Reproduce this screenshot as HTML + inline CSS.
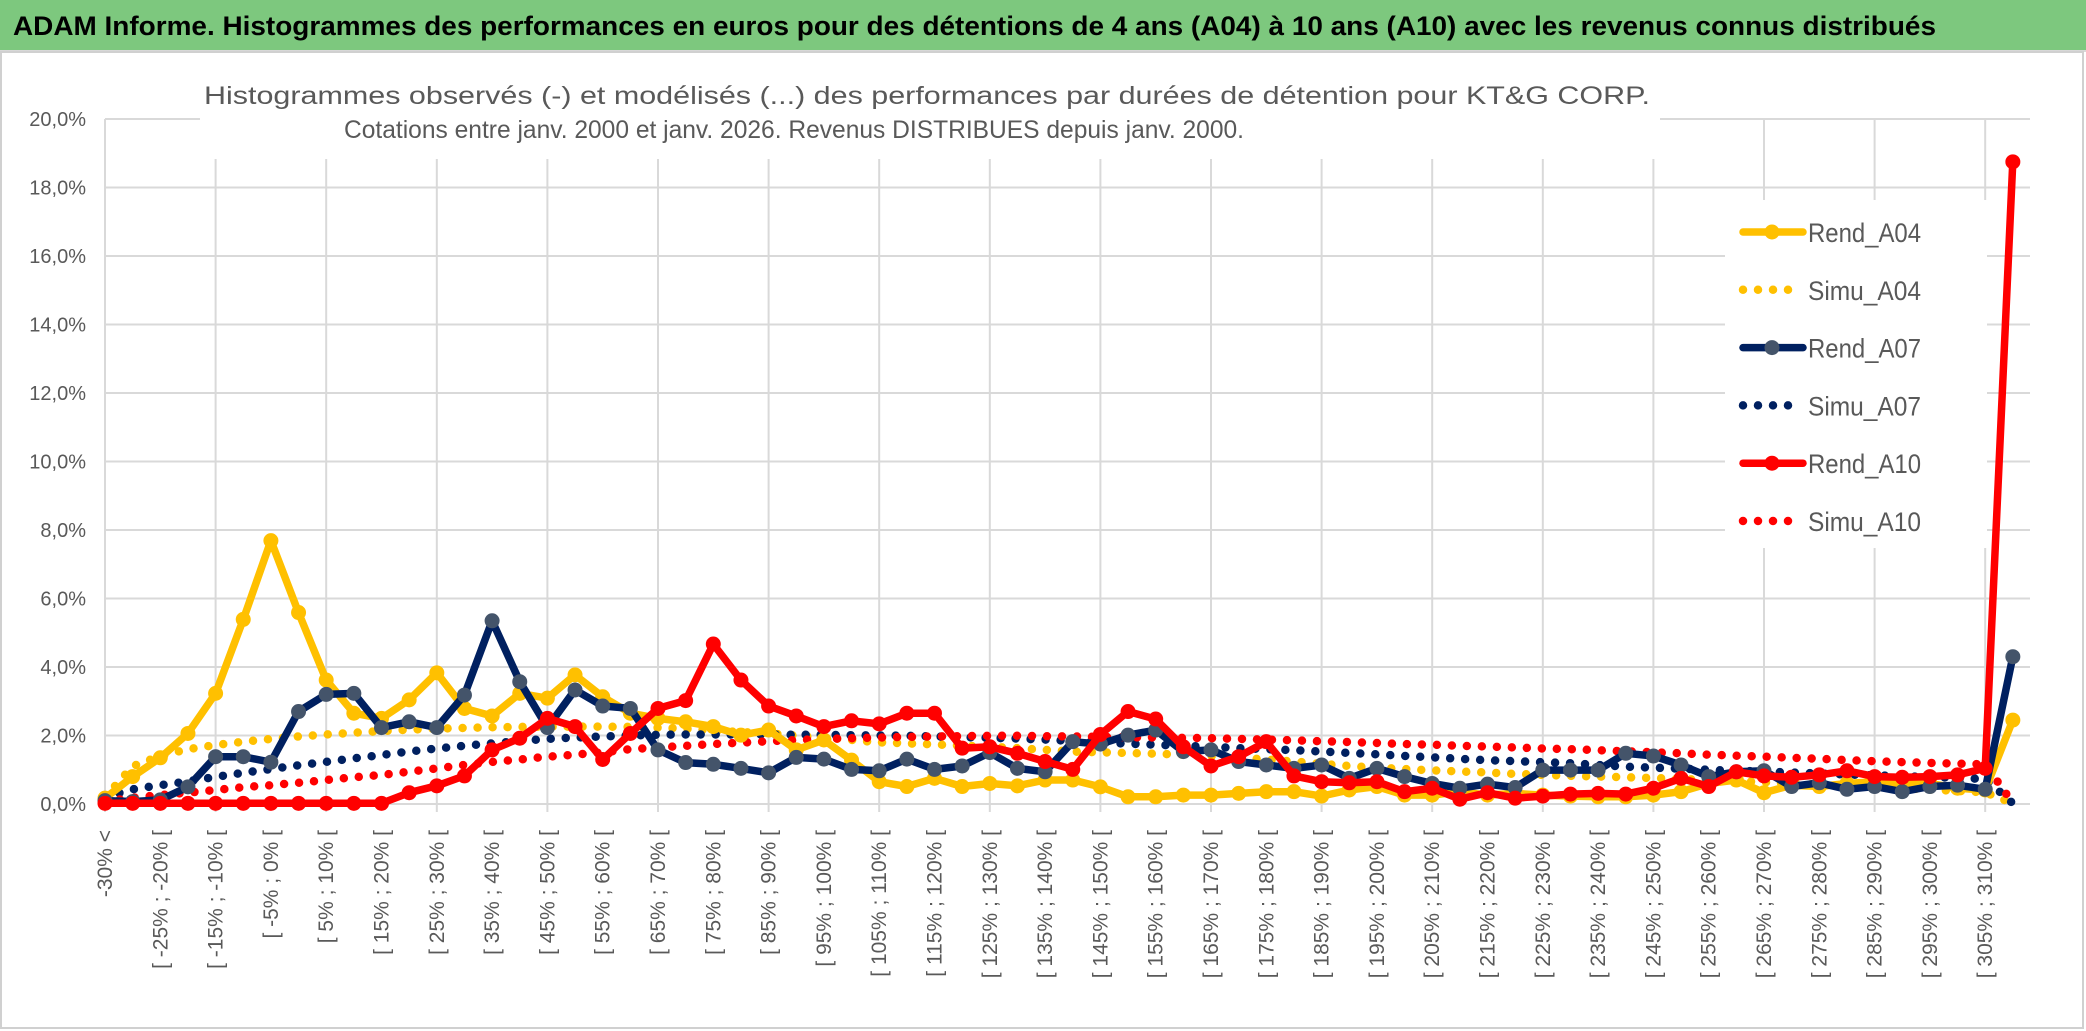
<!DOCTYPE html>
<html><head><meta charset="utf-8"><style>
html,body{margin:0;padding:0;background:#fff;}
svg{display:block;font-family:"Liberation Sans",sans-serif;}
</style></head><body>
<svg id="chart" width="2086" height="1031" viewBox="0 0 2086 1031" xmlns="http://www.w3.org/2000/svg">
<rect x="0" y="0" width="2086" height="50" fill="#7DC87E"/>
<line x1="0" y1="51" x2="2086" y2="51" stroke="#d8d8d8" stroke-width="2"/>
<text x="13" y="35" font-size="27" font-weight="bold" fill="#000" textLength="1923" lengthAdjust="spacingAndGlyphs">ADAM Informe. Histogrammes des performances en euros pour des détentions de 4 ans (A04) à 10 ans (A10) avec les revenus connus distribués</text>
<rect x="1" y="52" width="2082" height="976" fill="none" stroke="#d0d0d0" stroke-width="2"/>
<g id="grid"></g>
<rect x="200" y="80" width="1460" height="79" fill="#fff"/>
<text x="204" y="104" font-size="25" fill="#595959" textLength="1446" lengthAdjust="spacingAndGlyphs">Histogrammes observés (-) et modélisés (...) des performances par durées de détention pour KT&amp;G CORP.</text>
<text x="344" y="138" font-size="25" fill="#595959" textLength="900" lengthAdjust="spacingAndGlyphs">Cotations entre janv. 2000 et janv. 2026. Revenus DISTRIBUES depuis janv. 2000.</text>
<g id="yaxis"></g>
<g id="xaxis"></g>
<g id="series"></g>
<g id="legend"></g>
</svg>
<script>
const yTicks = [0,2,4,6,8,10,12,14,16,18,20];
const seriesNames = ["Rend_A04","Simu_A04","Rend_A07","Simu_A07","Rend_A10","Simu_A10"];
const rendA04 = [0.17,0.8,1.35,2.06,3.23,5.39,7.69,5.59,3.62,2.65,2.5,3.04,3.83,2.79,2.57,3.23,3.09,3.77,3.13,2.65,2.5,2.4,2.26,2.01,2.16,1.58,1.87,1.28,0.65,0.51,0.75,0.51,0.6,0.53,0.7,0.7,0.5,0.21,0.21,0.26,0.26,0.31,0.36,0.36,0.23,0.41,0.51,0.26,0.26,0.36,0.26,0.31,0.26,0.23,0.21,0.21,0.26,0.36,0.6,0.7,0.33,0.55,0.51,0.6,0.65,0.6,0.6,0.46,0.41,2.45];
const simuA04 = [0.2,1.1,1.4,1.6,1.72,1.82,1.9,1.97,2.03,2.08,2.13,2.17,2.2,2.22,2.24,2.25,2.26,2.26,2.26,2.25,2.23,2.2,2.15,2.1,2.06,2.0,1.94,1.87,1.8,1.77,1.74,1.7,1.67,1.63,1.58,1.53,1.51,1.49,1.47,1.44,1.4,1.35,1.3,1.24,1.17,1.11,1.06,1.02,0.98,0.95,0.92,0.88,0.85,0.82,0.8,0.78,0.76,0.73,0.7,0.67,0.64,0.6,0.57,0.53,0.5,0.46,0.42,0.38,0.34,0.02];
const rendA07 = [0.1,0.07,0.12,0.5,1.38,1.38,1.22,2.7,3.2,3.23,2.23,2.4,2.23,3.18,5.35,3.57,2.23,3.33,2.86,2.79,1.58,1.21,1.16,1.04,0.91,1.36,1.31,1.01,0.97,1.31,1.01,1.11,1.5,1.04,0.94,1.82,1.75,2.01,2.16,1.53,1.58,1.24,1.14,1.04,1.14,0.75,1.04,0.8,0.6,0.46,0.58,0.48,0.99,0.99,0.99,1.48,1.4,1.14,0.8,0.94,0.97,0.51,0.62,0.43,0.51,0.36,0.51,0.55,0.43,4.3];
const simuA07 = [0.2,0.43,0.55,0.66,0.79,0.91,1.02,1.13,1.23,1.33,1.43,1.53,1.62,1.7,1.77,1.84,1.9,1.94,1.97,2.0,2.02,2.03,2.03,2.03,2.03,2.02,2.02,2.01,2.0,1.99,1.97,1.95,1.93,1.91,1.88,1.84,1.8,1.76,1.73,1.7,1.67,1.63,1.6,1.57,1.53,1.49,1.45,1.4,1.36,1.32,1.28,1.25,1.22,1.19,1.14,1.09,1.06,1.03,1.0,0.97,0.95,0.92,0.89,0.86,0.84,0.81,0.79,0.76,0.73,0.02];
const rendA10 = [0.02,0.02,0.02,0.02,0.02,0.02,0.02,0.02,0.02,0.02,0.02,0.33,0.53,0.82,1.58,1.92,2.5,2.26,1.3,2.06,2.79,3.02,4.67,3.62,2.86,2.57,2.26,2.43,2.34,2.65,2.65,1.63,1.67,1.48,1.24,1.01,2.03,2.7,2.48,1.67,1.11,1.38,1.82,0.82,0.65,0.62,0.65,0.36,0.46,0.14,0.33,0.17,0.23,0.29,0.31,0.29,0.46,0.75,0.51,0.94,0.82,0.78,0.85,0.97,0.8,0.78,0.8,0.85,1.04,18.75];
const simuA10 = [0.07,0.18,0.26,0.33,0.41,0.49,0.55,0.62,0.7,0.78,0.85,0.94,1.04,1.14,1.23,1.3,1.38,1.44,1.51,1.6,1.65,1.7,1.75,1.79,1.83,1.87,1.9,1.92,1.94,1.96,1.97,1.98,1.99,1.99,1.98,1.97,1.96,1.95,1.94,1.93,1.92,1.9,1.88,1.86,1.83,1.81,1.78,1.75,1.73,1.7,1.68,1.65,1.62,1.6,1.57,1.54,1.51,1.48,1.44,1.41,1.38,1.35,1.32,1.28,1.25,1.22,1.2,1.18,1.16,0.03];
const categories = ["-30% <"];
for (let i = 1; i < 70; i++) { const a = -30 + 5*(i-1); categories.push("[ " + a + "% ; " + (a+5) + "% ["); }

const NS = "http://www.w3.org/2000/svg";
const X0 = 105, DX = 27.65, Y0 = 804, PY = 34.25;
const xs = i => X0 + i*DX;
const ys = v => Y0 - v*PY;
function mk(tag, attrs, parent){ const e=document.createElementNS(NS,tag); for(const k in attrs) e.setAttribute(k,attrs[k]); parent.appendChild(e); return e; }

const grid = document.getElementById('grid');
yTicks.forEach(t => {
  const ln = mk('line',{x1:X0,x2:2030,y1:ys(t),y2:ys(t),stroke:'#d9d9d9','stroke-width':2},grid);
  
  
});
for (let i = 0; i < categories.length; i += 4) {
  const ln = mk('line',{x1:xs(i),x2:xs(i),y1:ys(20),y2:Y0+8,stroke:'#d9d9d9','stroke-width':2},grid);
  
  
}
const yaxis = document.getElementById('yaxis');
yTicks.forEach(t => {
  const tx = mk('text',{x:86,y:ys(t)+7,'text-anchor':'end','font-size':20,fill:'#595959'},yaxis);
  tx.textContent = t.toFixed(1).replace('.',',') + '%';
  
  
});
const xaxis = document.getElementById('xaxis');
categories.forEach((c,i) => {
  if (i % 2) return;
  const x = xs(i)+7, y = 830;
  const tx = mk('text',{x:x,y:y,'text-anchor':'end','font-size':21,fill:'#595959',transform:'rotate(-90 '+x+' '+y+')'},xaxis);
  tx.textContent = c;
  
  
});

const seriesData = [rendA04, simuA04, rendA07, simuA07, rendA10, simuA10];
const styles = [
  {c:'#FFC000',m:'#FFC000',dot:false},{c:'#FFC000',dot:true},
  {c:'#002060',m:'#44546A',dot:false},{c:'#002060',dot:true},
  {c:'#FF0000',m:'#FF0000',dot:false},{c:'#FF0000',dot:true}];
const order = [1,3,5,0,2,4];
const sg = document.getElementById('series');
order.forEach(k => {
  const d = seriesData[k], st = styles[k];
  const pts = d.map((v,i)=>xs(i).toFixed(1)+','+ys(v).toFixed(1)).join(' ');
  const g = mk('g',{},sg);
  
  
  if (st.dot) {
    const pl = mk('polyline',{points:pts,fill:'none',stroke:st.c,'stroke-width':8.5,'stroke-linecap':'round','stroke-dasharray':'0 15'},g);
    
    
  } else {
    const pl = mk('polyline',{points:pts,fill:'none',stroke:st.c,'stroke-width':7.5,'stroke-linejoin':'round'},g);
    
    
    d.forEach((v,i) => {
      const c = mk('circle',{cx:xs(i),cy:ys(v),r:7.5,fill:st.m},g);
      
      
    });
  }
});

const lg = document.getElementById('legend');
const lbg = mk('rect',{x:1725,y:200,width:262,height:348,fill:'#fff'},lg);


seriesNames.forEach((n,k) => {
  const y = 232 + k*57.8, st = styles[k];
  const g = mk('g',{},lg);
  
  
  if (st.dot) {
    mk('line',{x1:1743,x2:1795,y1:y,y2:y,stroke:st.c,'stroke-width':8.5,'stroke-linecap':'round','stroke-dasharray':'0 15'},g);
  } else {
    mk('line',{x1:1743,x2:1803,y1:y,y2:y,stroke:st.c,'stroke-width':7.5,'stroke-linecap':'round'},g);
    mk('circle',{cx:1772,cy:y,r:7.5,fill:st.m},g);
  }
  const t = mk('text',{x:1808,y:y+10,'font-size':27,fill:'#595959',textLength:113,lengthAdjust:'spacingAndGlyphs'},g);
  t.textContent = n;
});
</script>
</body></html>
